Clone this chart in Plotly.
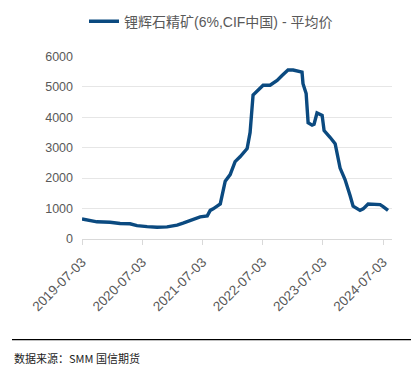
import plotly.graph_objects as go

dates = ["2019-07-03","2019-08-20","2019-10-02","2019-12-20","2020-02-19","2020-04-19",
         "2020-06-01","2020-08-01","2020-09-30","2020-11-30","2021-01-30","2021-03-07",
         "2021-04-20","2021-06-01","2021-06-19","2021-08-01","2021-08-19","2021-09-06",
         "2021-10-19","2021-11-18","2021-12-18","2022-01-17","2022-02-16","2022-03-31",
         "2022-04-18","2022-05-06","2022-06-05","2022-07-06","2022-08-17","2022-09-29",
         "2022-10-29","2022-12-04","2023-01-04","2023-02-27","2023-03-05","2023-03-24",
         "2023-04-05","2023-04-29","2023-05-11","2023-05-29","2023-06-29","2023-07-11",
         "2023-08-16","2023-09-16","2023-10-16","2023-11-15","2023-12-16","2024-01-03",
         "2024-02-14","2024-03-04","2024-04-03","2024-05-03","2024-06-15","2024-07-03",
         "2024-08-02"]
prices = [660, 620, 565, 550, 510, 500,
          440, 405, 385, 400, 455, 520,
          610, 670, 725, 760, 940, 990,
          1150, 1900, 2115, 2540, 2700, 2970,
          3500, 4730, 4890, 5050, 5050, 5210,
          5370, 5550, 5550, 5480, 5100, 4780,
          3820, 3740, 3770, 4140, 4060, 3560,
          3340, 3130, 2330, 1955, 1420, 1080,
          940, 990, 1150, 1150, 1130, 1065,
          940]
tick_vals = ["2019-07-03","2020-07-03","2021-07-03","2022-07-03","2023-07-03","2024-07-03"]
series_name = "锂辉石精矿(6%,CIF中国) - 平均价"

L, T, W, H = 74, 44, 310, 187

fig = go.Figure()
fig.add_trace(go.Scatter(x=dates, y=prices, mode="lines", name=series_name,
                         line=dict(color="#0B4A80", width=3.4)))

fig.update_layout(
    width=419, height=371,
    margin=dict(l=L, r=419 - L - W, t=T, b=371 - T - H),
    paper_bgcolor="white", plot_bgcolor="white",
    font=dict(family="Liberation Sans, Arial, Noto Sans CJK SC", color="#595959", size=12),
    showlegend=True,
    legend=dict(orientation="h", x=(76 - L) / W, xanchor="left", y=0.92, yanchor="bottom",
                yref="container", font=dict(size=14, color="#595959",
                family="Liberation Sans, Noto Sans CJK SC")),
    xaxis=dict(type="date", range=["2019-07-03", "2024-08-26"],
               tickvals=tick_vals, ticktext=tick_vals, tickangle=-45,
               showgrid=False, showline=True, linecolor="#d9d9d9", linewidth=1,
               ticks="outside", ticklen=5, tickcolor="#d9d9d9", ticklabelstandoff=4,
               tickfont=dict(size=13.5, color="#595959")),
    yaxis=dict(range=[0, 6000], tickvals=[0,1000,2000,3000,4000,5000,6000],
               showgrid=True, gridcolor="#e6e6e6", gridwidth=1, zeroline=False,
               showline=False, ticks="", ticklabelstandoff=8,
               tickfont=dict(size=12.5, color="#595959")),
    shapes=[dict(type="line", xref="paper", yref="paper",
                 x0=(4 - L) / W, x1=1.3, y0=-103 / H, y1=-103 / H,
                 line=dict(color="#000000", width=1.3))],
    annotations=[
        dict(text="数据来源：SMM 国信期货", xref="paper", yref="paper",
             x=(4 - L) / W, y=-122 / H, xanchor="left", yanchor="middle", showarrow=False,
             font=dict(size=11, color="#222222", family="Noto Sans CJK SC")),
        dict(text="数据来源", xref="paper", yref="paper",
             x=(401 - L) / W, y=-122 / H, xanchor="left", yanchor="middle", showarrow=False,
             font=dict(size=11, color="#222222", family="Noto Sans CJK SC")),
    ],
)

fig.write_html("out.html")
